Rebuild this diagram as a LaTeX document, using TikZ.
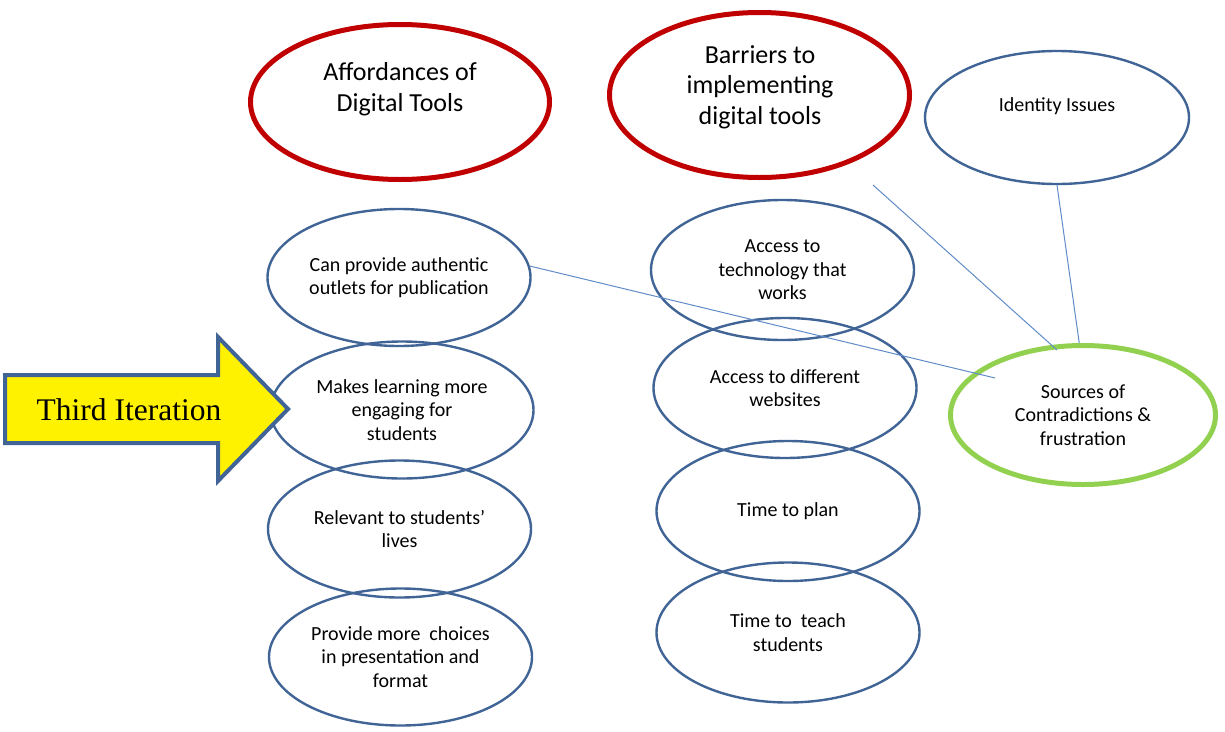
\documentclass[tikz,border=0pt]{standalone}
\usepackage{fontspec}
\setmainfont{Carlito}
\newfontfamily\timesfont{Liberation Serif}
\usetikzlibrary{shapes.geometric}
\definecolor{ovalblue}{RGB}{65,100,150}
\definecolor{linkblue}{RGB}{95,140,200}
\definecolor{themered}{RGB}{192,0,0}
\definecolor{srcgreen}{RGB}{146,208,80}
\tikzset{
    oval/.style={ellipse, draw=ovalblue, line width=2.4pt, inner sep=0pt, align=center,
        minimum width=263pt, minimum height=137pt, font=\fontsize{20}{23.5}\selectfont},
    theme/.style={ellipse, draw=themered, line width=5pt, inner sep=0pt},
    source/.style={ellipse, draw=srcgreen, line width=5pt, inner sep=0pt, align=center,
        minimum width=265pt, minimum height=139pt, font=\fontsize{20}{23.5}\selectfont},
    themetext/.style={align=center, font=\fontsize{26}{30.5}\selectfont},
    smalltext/.style={align=center, font=\fontsize{20}{23.5}\selectfont},
    link/.style={draw=linkblue, line width=1pt}
}
\begin{document}
\begin{tikzpicture}[x=1pt, y=-1pt]
    \useasboundingbox (0,0) rectangle (1225,731);
    \node[theme, minimum width=299pt, minimum height=155pt] (aff) at (400,102) {};
    \node[themetext] (aff-t) at (400,89) {Affordances of\\Digital Tools};
    \node[theme, minimum width=300pt, minimum height=165pt] (bar) at (759.5,95) {};
    \node[themetext] (bar-t) at (760,87) {Barriers to\\implementing\\digital tools};
    \node[oval, minimum width=264pt, minimum height=133pt] (ident) at (1057,117.5) {};
    \node[smalltext] (ident-t) at (1057,106) {Identity Issues};
    \foreach \n/\x/\y/\t in {
        l1/399/277.5/{Can provide authentic\\outlets for publication},
        l2/402/410/{Makes learning more\\engaging for\\students},
        l3/399.5/529/{Relevant to students’\\lives},
        l4/400.5/657/{Provide more\ \ choices\\in presentation and\\format}}{
        \node[oval] (\n) at (\x,\y) {\t};
    }
    \foreach \n/\x/\y/\t in {
        m1/782.5/270/{Access to\\technology that\\works},
        m2/785/388/{Access to different\\websites},
        m3/788/511/{Time to plan},
        m4/788/632.5/{Time to\ \ teach\\students}}{
        \node[oval, minimum height=140pt] (\n) at (\x,\y) {\t};
    }
    \node[source] (src) at (1083,415) {Sources of\\Contradictions \&\\frustration};
    \coordinate (src-a) at (995,378);
    \coordinate (src-b) at (1057,350);
    \coordinate (bar-end) at (873,185);
    \draw[link] (l1.5) -- (src-a);
    \draw[link] (bar-end) -- (src-b);
    \draw[link] (ident.south) -- (src.93);
    \draw[draw=ovalblue, line width=4pt, fill=yellow] (5,375) -- (218,375) -- (218,337) -- (288,409)
        -- (218,481) -- (218,443) -- (5,443) -- cycle;
    \node[font=\timesfont\fontsize{31.5}{36}\selectfont] (iter) at (129,410) {Third Iteration};
\end{tikzpicture}
\end{document}
